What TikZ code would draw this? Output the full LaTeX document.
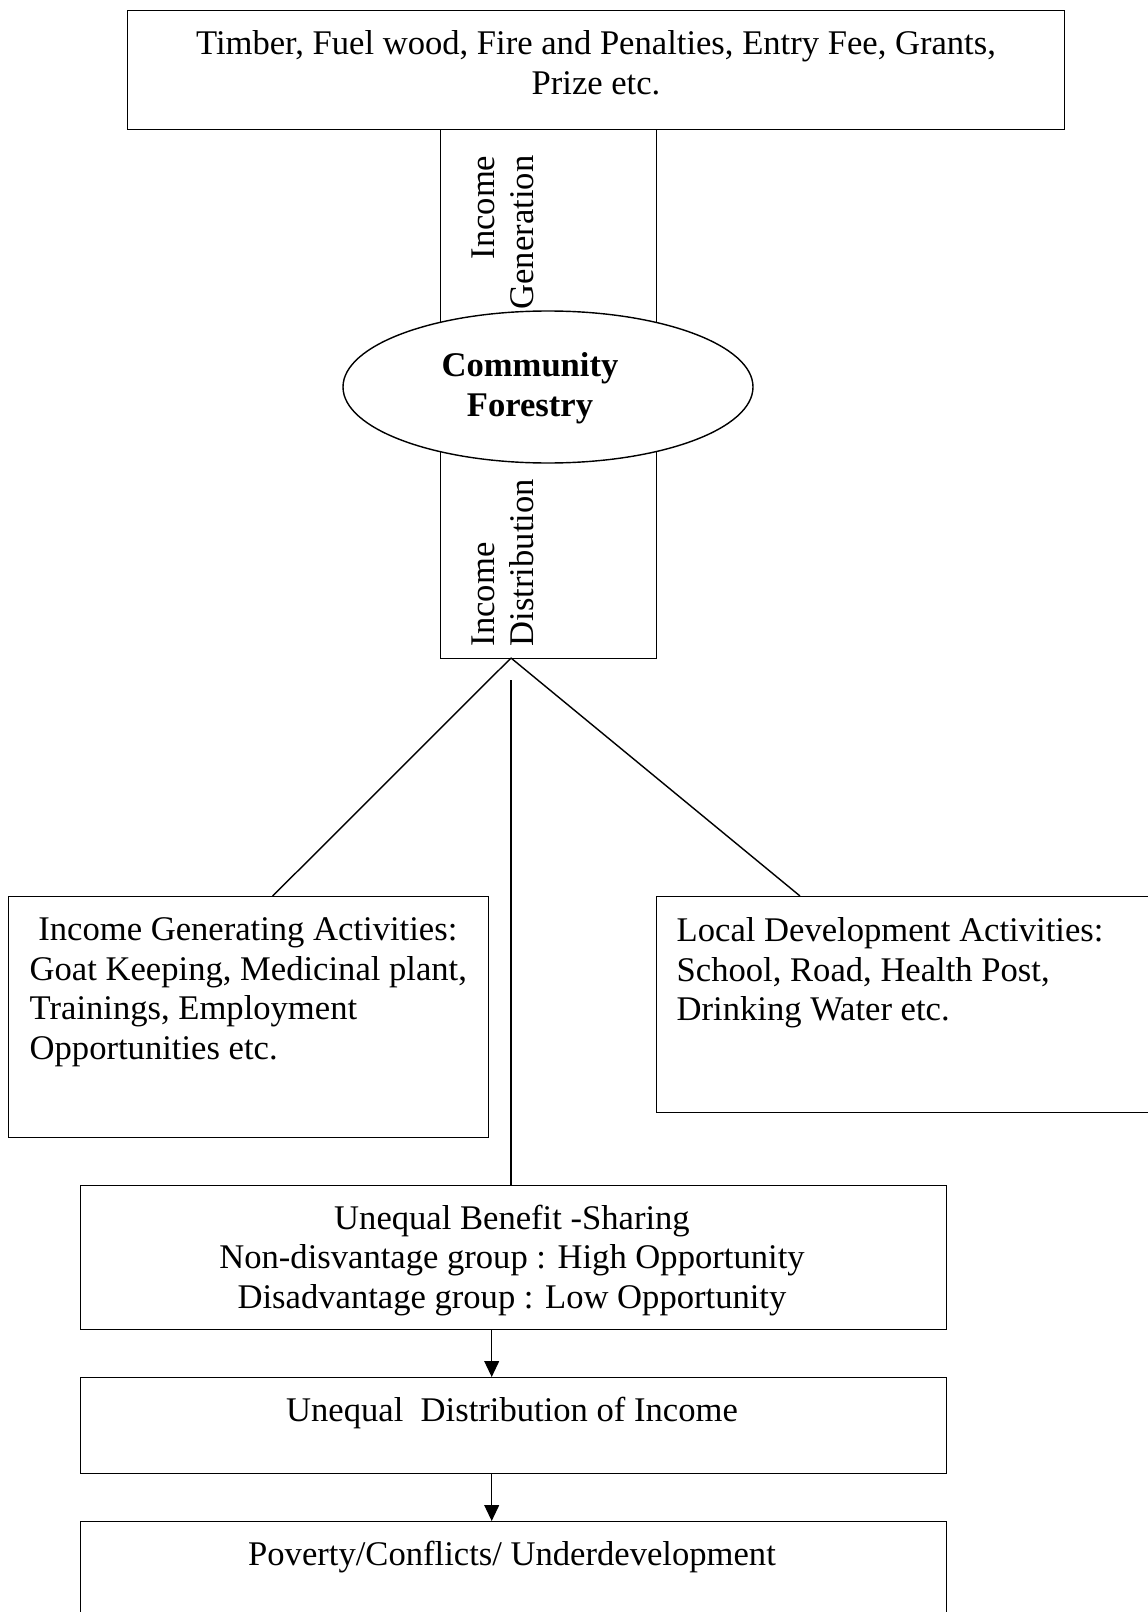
\documentclass[tikz,border=0pt]{standalone}
\usepackage{fontspec}
\setmainfont{Liberation Serif}
\usepackage{tikz}
\usetikzlibrary{calc, shapes.geometric, arrows.meta}

\def\px{0.354pt}

\begin{document}
\begin{tikzpicture}[x=\px, y=-\px, line width=0.5pt,
		box/.style = {draw, anchor = north west, inner sep = 0},
		txt/.style = {inner sep = 0, anchor = north, font = \fontsize{12.25}{14}\selectfont},
		arr/.style = {-{Triangle[length=5.6pt, width=5.2pt]}}]
		\useasboundingbox (0,0) rectangle (1147,1612);
		
		% sources of income
		\node [box, minimum width = {937*\px}, minimum height = {119*\px}] (sources) at (127,10) {};
		\node [txt, align = center] (sourcestext) at (596,30)
			{Timber, Fuel wood, Fire and Penalties, Entry Fee, Grants,\\Prize etc.};
		
		% column through the ellipse
		\node [box, minimum width = {216*\px}, minimum height = {529*\px}] (column) at (440,129) {};
		\node [txt, rotate = 90, anchor = east, align = right] (gen) at (503,155) {Income\\Generation};
		\node [txt, rotate = 90, anchor = west, align = left] (dist) at (503,647) {Income\\Distribution};
		
		\node [draw, ellipse, fill = white, minimum width = {410*\px}, minimum height = {152*\px}] (cf) at (548,387) {};
		\node [txt, align = center, font = \fontsize{12.25}{14}\selectfont\bfseries] (cftext) at (530,352) {Community\\Forestry};
		
		% activities
		\node [box, minimum width = {480*\px}, minimum height = {241*\px}] (iga) at (8,896) {};
		\node [txt, anchor = north west, align = left] (igatext) at (29,917)
			{~Income Generating Activities:\\Goat Keeping, Medicinal plant,\\Trainings, Employment\\Opportunities etc.};
		
		\node [box, minimum width = {499*\px}, minimum height = {216*\px}] (lda) at (656,896) {};
		\node [txt, anchor = north west, align = left] (ldatext) at (676,917)
			{Local Development Activities:\\School, Road, Health Post,\\Drinking Water etc.};
		
		\coordinate (split) at (511,658);
		\draw (split) -- ([xshift = {24*\px}] iga.north);
		\draw (split) -- ([xshift = {144*\px}] lda.north west);
		
		% consequences
		\node [box, minimum width = {866*\px}, minimum height = {144*\px}] (benefit) at (80,1185) {};
		\node [txt, align = center] (benefittext) at (512,1204)
			{Unequal Benefit -Sharing\\Non-disvantage group : High Opportunity\\Disadvantage group : Low Opportunity};
		
		\node [box, minimum width = {866*\px}, minimum height = {96*\px}] (income) at (80,1377) {};
		\node [txt] (incometext) at (512,1396) {Unequal\ \ Distribution of Income};
		
		\node [box, minimum width = {866*\px}, minimum height = {130*\px}] (poverty) at (80,1521) {};
		\node [txt] (povertytext) at (512,1540) {Poverty/Conflicts/ Underdevelopment};
		
		\draw ($ (split) + (0,22) $) -- (split |- benefit.north);
		\draw [arr] ([xshift = {-22*\px}] benefit.south) -- ([xshift = {-22*\px}] income.north);
		\draw [arr] ([xshift = {-22*\px}] income.south) -- ([xshift = {-22*\px}] poverty.north);
	\end{tikzpicture}
\end{document}
